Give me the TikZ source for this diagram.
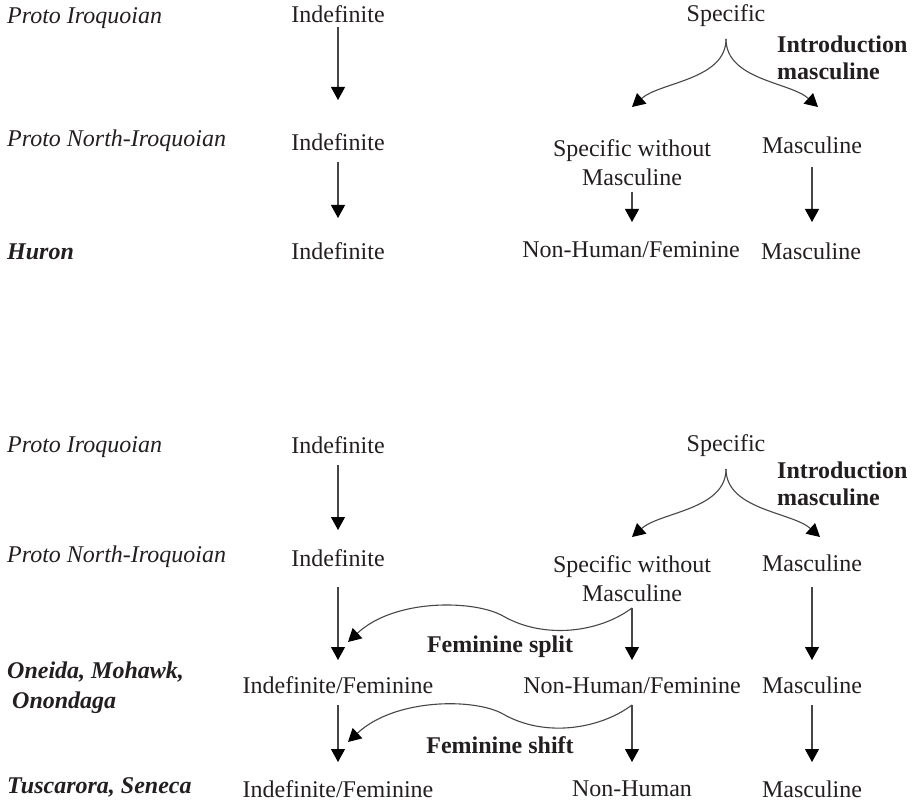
\documentclass[tikz,border=0pt]{standalone}
\usepackage{fontspec}
\setmainfont{Liberation Serif}
\usetikzlibrary{arrows.meta,calc}
\definecolor{ink}{RGB}{35,31,32}
\definecolor{linec}{RGB}{70,70,70}
\begin{document}
\begin{tikzpicture}[x=1pt,y=-1pt,
  txt/.style={font=\fontsize{24}{29}\selectfont, inner sep=0pt, text height=17pt, text depth=5pt, text=ink},
  twoline/.style={font=\fontsize{24}{29}\selectfont, inner sep=0pt, align=center, text=ink},
  lang/.style={font=\fontsize{24}{29}\selectfont\itshape, inner sep=0pt, anchor=west, text=ink},
  langb/.style={font=\fontsize{24}{30}\selectfont\bfseries\itshape, inner sep=0pt, anchor=west, align=left, text=ink},
  note/.style={font=\fontsize{24}{27}\selectfont\bfseries, inner sep=0pt, text=ink},
  arr/.style={draw=linec, line width=1.1pt, -{Triangle[width=14pt,length=13pt,color=black]}}]
\useasboundingbox (0,0) rectangle (912,810);

% ---------- top panel ----------
\node[lang] (lab1) at (7,18) {Proto Iroquoian};
\node[lang] (lab2) at (7,141) {Proto North-Iroquoian};
\node[langb] (lab3) at (7,252) {Huron};

\node[txt] (ind1) at (338,17) {Indefinite};
\node[txt] (ind2) at (338,145) {Indefinite};
\node[txt] (ind3) at (338,253) {Indefinite};

\node[txt] (spec1) at (726,16) {Specific};
\node[note, align=left, anchor=west] (intro1) at (777,58) {Introduction\\masculine};
\node[twoline] (sw1) at (632,163) {Specific without\\Masculine};
\node[txt] (masc1) at (812,148) {Masculine};
\node[txt] (nhf1) at (631,252) {Non-Human/Feminine};
\node[txt] (masc1b) at (811,253) {Masculine};

\draw[arr] ($(ind1)+(0,10)$) -- ($(ind2)+(0,-45)$);
\draw[arr] ($(ind2)+(0,17)$) -- ($(ind3)+(0,-35)$);
\draw[arr] ($(sw1)+(0,29)$) -- ($(nhf1)+(1,-30)$);
\draw[arr] ($(masc1)+(0,19)$) -- ($(masc1b)+(1,-31)$);
\draw[arr] ($(spec1)+(0,23)$) .. controls +(0,41) and +(28,-25) .. ($(sw1)+(0,-56)$);
\draw[arr] ($(spec1)+(0,23)$) .. controls +(0,41) and +(-28,-25) .. ($(masc1)+(6,-41)$);

% ---------- bottom panel ----------
\node[lang] (lab4) at (7,447) {Proto Iroquoian};
\node[lang] (lab5) at (7,557) {Proto North-Iroquoian};
\node[langb] (lab6) at (7,688) {Oneida, Mohawk,\\\hspace*{5pt}Onondaga};
\node[langb] (lab7) at (7,787) {Tuscarora, Seneca};

\node[txt] (ind4) at (338,447) {Indefinite};
\node[txt] (ind5) at (338,560) {Indefinite};
\node[txt] (indf1) at (338,687) {Indefinite/Feminine};
\node[txt] (indf2) at (338,791) {Indefinite/Feminine};

\node[txt] (spec2) at (726,445) {Specific};
\node[note, align=left, anchor=west] (intro2) at (777,484) {Introduction\\masculine};
\node[twoline] (sw2) at (632,579) {Specific without\\Masculine};
\node[txt] (masc2) at (812,565) {Masculine};
\node[txt] (nhf2) at (632,687) {Non-Human/Feminine};
\node[txt] (masc3) at (812,687) {Masculine};
\node[txt] (nh) at (632,790) {Non-Human};
\node[txt] (masc4) at (812,791) {Masculine};

\node[note] (fsplit) at (500,647) {Feminine split};
\node[note] (fshift) at (500,745) {Feminine shift};

\draw[arr] ($(ind4)+(0,18)$) -- ($(ind5)+(0,-30)$);
\draw[arr] ($(ind5)+(0,27)$) -- ($(indf1)+(0,-27)$);
\draw[arr] ($(indf1)+(0,18)$) -- ($(indf2)+(0,-29)$);
\draw[arr] ($(sw2)+(0,29)$) -- ($(nhf2)+(0,-27)$);
\draw[arr] ($(nhf2)+(0,18)$) -- ($(nh)+(0,-28)$);
\draw[arr] ($(masc2)+(0,22)$) -- ($(masc3)+(0,-27)$);
\draw[arr] ($(masc3)+(0,18)$) -- ($(masc4)+(0,-29)$);

\draw[arr] ($(spec2)+(0,24)$) .. controls +(0,41) and +(28,-25) .. ($(sw2)+(0,-42)$);
\draw[arr] ($(spec2)+(0,24)$) .. controls +(0,41) and +(-28,-25) .. ($(masc2)+(8,-28)$);

\draw[arr] ($(sw2)+(0,29)$) .. controls +(-32,24) and +(42,24) .. (503,616)
   .. controls +(-28,-16) and +(47,-44) .. ($(indf1)+(10,-45)$);
\draw[arr] ($(nhf2)+(0,18)$) .. controls +(-32,24) and +(42,24) .. (503,714)
   .. controls +(-28,-16) and +(47,-44) .. ($(indf2)+(10,-49)$);
\end{tikzpicture}
\end{document}
